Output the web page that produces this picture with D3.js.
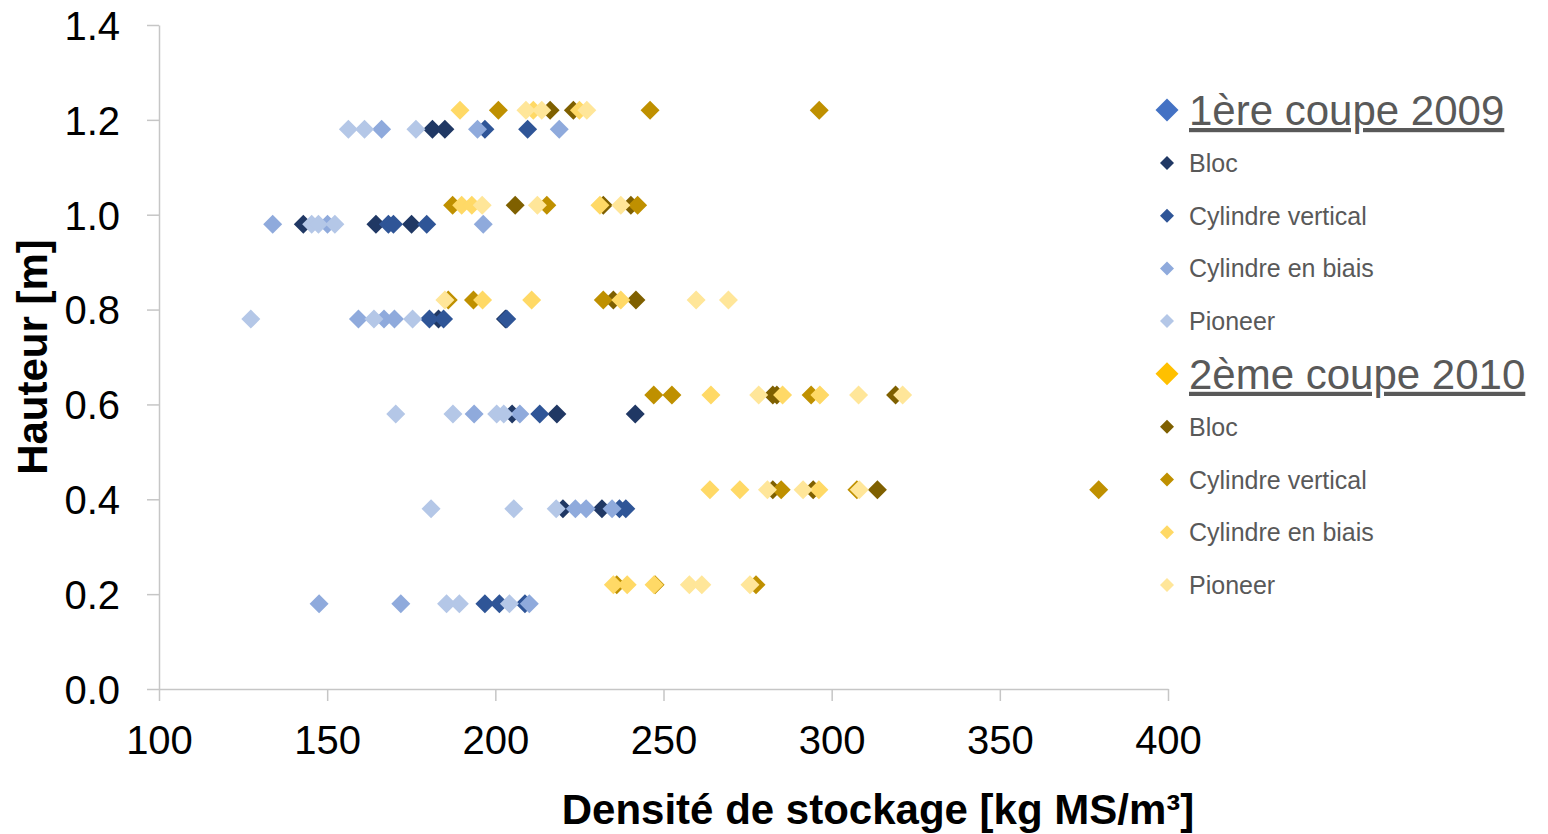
<!DOCTYPE html>
<html>
<head>
<meta charset="utf-8">
<script src="https://cdn.jsdelivr.net/npm/d3@7"></script>
<style>
  html, body { margin: 0; padding: 0; background: #fff; }
  svg { display: block; font-family: "Liberation Sans", Arial, sans-serif; }
</style>
</head>
<body>
<svg id="chart" width="1548" height="834"></svg>
<script>
// ---------------- DATA ----------------
const xTicks = [100, 150, 200, 250, 300, 350, 400];
const yTicks = [0, 0.2, 0.4, 0.6, 0.8, 1.0, 1.2, 1.4];

const groupNames = ["1ère coupe 2009", "2ème coupe 2010"];
const seriesNames = ["Bloc", "Cylindre vertical", "Cylindre en biais", "Pioneer"];

// [density, height]
const bloc2009 = [[181.3,1.18],[185.0,1.18],[142.9,0.98],[164.5,0.98],[175.1,0.98],
  [183.1,0.78],[203.0,0.78],[205.0,0.58],[218.3,0.58],[241.6,0.58],[220.1,0.38],[231.7,0.38]];
const cylVert2009 = [[196.9,1.18],[209.6,1.18],[168.2,0.98],[169.7,0.98],[179.6,0.98],
  [180.4,0.78],[184.6,0.78],[203.4,0.78],[213.2,0.58],[236.9,0.38],[238.8,0.38],
  [196.9,0.18],[201.2,0.18],[208.8,0.18]];
const cylBiais2009 = [[166.2,1.18],[194.7,1.18],[219.0,1.18],[133.8,0.98],[150.1,0.98],[196.4,0.98],
  [159.3,0.78],[166.9,0.78],[170.0,0.78],[193.7,0.58],[207.3,0.58],[223.8,0.38],[227.0,0.38],[234.7,0.38],
  [147.6,0.18],[171.9,0.18],[210.1,0.18]];
const pioneer2009 = [[156.3,1.18],[161.1,1.18],[176.4,1.18],[145.4,0.98],[147.4,0.98],[152.3,0.98],
  [127.3,0.78],[163.9,0.78],[175.4,0.78],[170.4,0.58],[187.4,0.58],[200.4,0.58],[202.5,0.58],
  [180.9,0.38],[205.5,0.38],[218.1,0.38],[185.5,0.18],[189.3,0.18],[204.2,0.18]];

const bloc2010 = [[216.3,1.22],[223.2,1.22],[205.9,1.02],[232.1,1.02],[240.3,1.02],
  [235.1,0.82],[241.8,0.82],[282.5,0.62],[283.7,0.62],[319.0,0.62],[282.5,0.42],[294.5,0.42],[313.6,0.42]];
const cylVert2010 = [[200.9,1.22],[246.0,1.22],[296.3,1.22],[187.3,1.02],[215.3,1.02],[242.3,1.02],
  [186.0,0.82],[193.5,0.82],[232.1,0.82],[247.1,0.62],[252.5,0.62],[293.9,0.62],
  [285.0,0.42],[307.5,0.42],[379.4,0.42],[236.1,0.22],[247.5,0.22],[277.5,0.22]];
const cylBiais2010 = [[189.5,1.22],[211.3,1.22],[225.0,1.22],[190.0,1.02],[193.0,1.02],[231.1,1.02],
  [196.2,0.82],[210.8,0.82],[237.3,0.82],[264.1,0.62],[285.4,0.62],[296.5,0.62],
  [263.8,0.42],[272.7,0.42],[296.2,0.42],[235.1,0.22],[239.2,0.22],[247.2,0.22]];
const pioneer2010 = [[209.1,1.22],[213.8,1.22],[227.2,1.22],[196.1,1.02],[212.5,1.02],[237.3,1.02],
  [185.0,0.82],[259.7,0.82],[269.3,0.82],[278.3,0.62],[308.0,0.62],[321.1,0.62],
  [280.9,0.42],[291.5,0.42],[308.2,0.42],[257.7,0.22],[261.4,0.22],[275.7,0.22]];

const xTitle = "Densité de stockage [kg MS/m³]";
const yTitle = "Hauteur [m]";

// ---------------- STYLE ----------------
const groupColors = ["#4472C4", "#FFC000"];
const colors2009 = ["#203864", "#2F5597", "#8FAADC", "#B4C7E7"];
const colors2010 = ["#7F6000", "#BF9000", "#FFD966", "#FFE699"];

const groups = [
  { name: groupNames[0], color: groupColors[0],
    series: [bloc2009, cylVert2009, cylBiais2009, pioneer2009].map((d, i) => ({ name: seriesNames[i], color: colors2009[i], data: d })) },
  { name: groupNames[1], color: groupColors[1],
    series: [bloc2010, cylVert2010, cylBiais2010, pioneer2010].map((d, i) => ({ name: seriesNames[i], color: colors2010[i], data: d })) }
];

const svg = d3.select("#chart");
const mLeft = 159, mRight = 1168, mTop = 25, mBottom = 689;
const axisColor = "#c6c6c6";

const x = d3.scaleLinear().domain([100, 400]).range([mLeft, mRight]);
const y = d3.scaleLinear().domain([0, 1.4]).range([mBottom, mTop]);

const diamond = r => `M0,${-r}L${r},0L0,${r}L${-r},0Z`;

// axes
const yAxis = d3.axisLeft(y).tickValues(yTicks).tickFormat(d3.format(".1f"))
  .tickSize(12).tickPadding(27).tickSizeOuter(0);
const gy = svg.append("g").attr("transform", `translate(${mLeft},0)`).call(yAxis);
gy.select(".domain").attr("stroke", axisColor).attr("stroke-width", 1.5);
gy.selectAll(".tick line").attr("stroke", axisColor).attr("stroke-width", 1.5);
gy.selectAll(".tick text").attr("fill", "#000").style("font-size", "40px")
  .style("font-family", "'Liberation Sans', Arial, sans-serif").attr("dy", "0.36em");

const xAxis = d3.axisBottom(x).tickValues(xTicks).tickFormat(d3.format("d"))
  .tickSize(12).tickPadding(25).tickSizeOuter(0);
const gx = svg.append("g").attr("transform", `translate(0,${mBottom})`).call(xAxis);
gx.select(".domain").attr("stroke", axisColor).attr("stroke-width", 1.5);
gx.selectAll(".tick line").attr("stroke", axisColor).attr("stroke-width", 1.5);
gx.selectAll(".tick text").attr("fill", "#000").style("font-size", "40px")
  .style("font-family", "'Liberation Sans', Arial, sans-serif");

// titles
svg.append("text").attr("x", 878).attr("y", 824).attr("text-anchor", "middle")
  .style("font-size", "42px").style("font-weight", "bold").attr("fill", "#000").text(xTitle);
svg.append("text").attr("transform", "translate(47,357) rotate(-90)").attr("text-anchor", "middle")
  .style("font-size", "42px").style("font-weight", "bold").attr("fill", "#000").text(yTitle);

// points
const plot = svg.append("g");
groups.forEach(g => {
  g.series.forEach(s => {
    plot.append("g").selectAll("path").data(s.data).join("path")
      .attr("d", diamond(9.5))
      .attr("transform", d => `translate(${x(d[0])},${y(d[1])})`)
      .attr("fill", s.color);
  });
});

// legend
const legend = svg.append("g");
const lx = 1167, tx = 1189;
let ly = 110;
groups.forEach(g => {
  legend.append("path").attr("d", diamond(11.5)).attr("transform", `translate(${lx},${ly})`).attr("fill", g.color);
  legend.append("text").attr("x", tx).attr("y", ly + 15).attr("fill", "#595959")
    .style("font-size", "42px").style("text-decoration", "underline").text(g.name);
  ly += 53;
  g.series.forEach(s => {
    legend.append("path").attr("d", diamond(7)).attr("transform", `translate(${lx},${ly})`).attr("fill", s.color);
    legend.append("text").attr("x", tx).attr("y", ly + 9).attr("fill", "#595959")
      .style("font-size", "25px").text(s.name);
    ly += 52.7;
  });
});
</script>
</body>
</html>
